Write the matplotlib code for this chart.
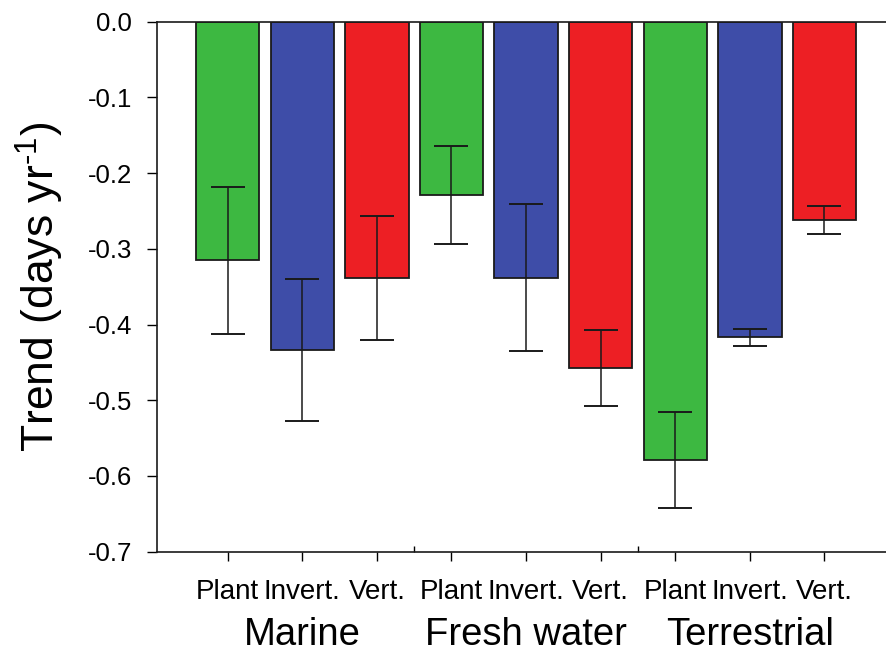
import matplotlib
matplotlib.use("Agg")
import matplotlib.pyplot as plt
import matplotlib.transforms as mtransforms

plt.rcParams['font.family'] = ['Liberation Sans', 'DejaVu Sans']
plt.rcParams['axes.unicode_minus'] = False
plt.rcParams['mathtext.fontset'] = 'custom'
plt.rcParams['mathtext.rm'] = 'Liberation Sans'

# ---- data ----
groups = ["Marine", "Fresh water", "Terrestrial"]
taxa = ["Plant", "Invert.", "Vert."]
trend = [-0.315, -0.434, -0.338,
         -0.229, -0.338, -0.457,
         -0.579, -0.417, -0.262]
err = [0.097, 0.094, 0.082,
       0.065, 0.097, 0.050,
       0.063, 0.011, 0.018]
tick_labels = taxa * 3
ytick_values = [0.0, -0.1, -0.2, -0.3, -0.4, -0.5, -0.6, -0.7]
colors = ["#3DB841", "#3E4DA8", "#ED1F24"] * 3

fig = plt.figure(figsize=(8.86, 6.52), dpi=100)
ax = fig.add_axes([157/886, 1 - 551.7/652, 729/886, 530/652])

x = list(range(len(trend)))
ax.bar(x, trend, width=0.85, color=colors, edgecolor='#1a1a1a', linewidth=1.3, zorder=2)
ax.errorbar(x, trend, yerr=err, fmt='none', ecolor='#1a1a1a', elinewidth=1.1,
            capsize=12, capthick=1.4, zorder=3)

ax.set_xlim(-0.948, 8.825)
ax.set_ylim(-0.7, 0.0)

ax.set_yticks(ytick_values)
ax.set_yticklabels(["%.1f" % v for v in ytick_values])
ax.set_xticks(x)
ax.set_xticklabels(tick_labels)
ax.set_xticks([2.5, 5.5], minor=True)

ax.tick_params(axis='y', direction='out', length=7, width=1, labelsize=18.5, pad=11)
ax.tick_params(axis='x', which='major', direction='out', length=6.5, width=1, labelsize=20, pad=13)
ax.tick_params(axis='x', which='minor', direction='in', length=4.5, width=1)

for s in ['left', 'bottom', 'top']:
    ax.spines[s].set_linewidth(1.2)
    ax.spines[s].set_color('#1a1a1a')
ax.spines['right'].set_visible(False)

ax.set_ylabel(r'Trend (days yr$^{\text{-}1}$)', fontsize=32, va='center')
ax.yaxis.set_label_coords(-0.16, 0.5)

trans = mtransforms.blended_transform_factory(ax.transData, fig.transFigure)
for gi, g in enumerate(groups):
    ax.text(gi * 3 + 1, 7/652, g, transform=trans, ha='center', va='baseline', fontsize=27.5)

fig.savefig("out.png", dpi=100)
